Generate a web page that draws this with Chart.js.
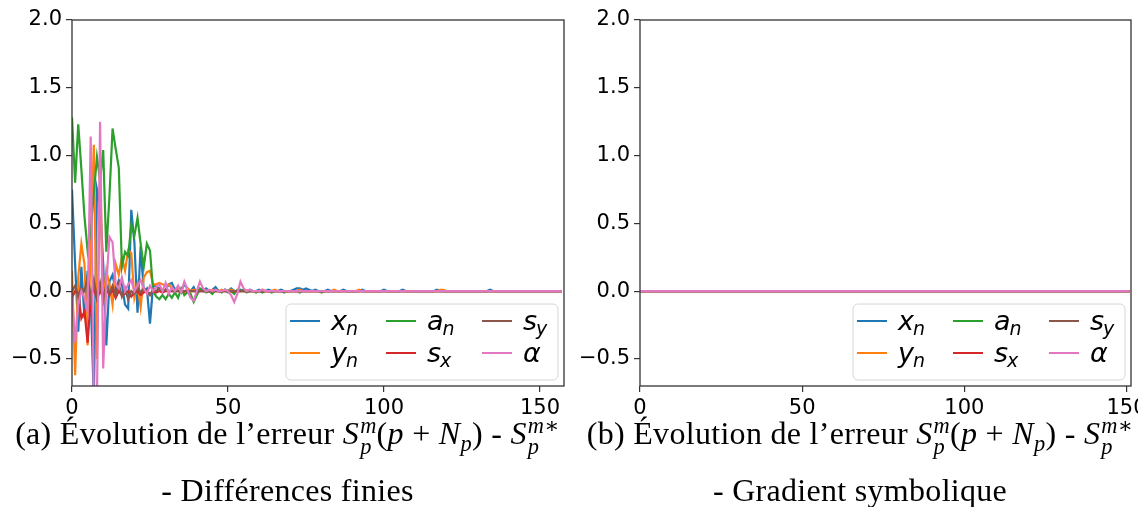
<!DOCTYPE html>
<html><head><meta charset="utf-8">
<script src="https://cdn.jsdelivr.net/npm/chart.js@4"></script>
<style>
html,body{margin:0;padding:0;background:#fff;width:1138px;height:507px;overflow:hidden;}
#wrap{position:relative;width:1138px;height:507px;overflow:hidden;}
canvas{position:absolute;top:0;}
#c1{left:0;}
#c2{left:568px;}
.cap{position:absolute;font-family:"Liberation Serif","DejaVu Serif",serif;font-size:32px;letter-spacing:0.3px;color:#000;text-align:center;white-space:nowrap;line-height:1;}
.ss{display:inline-flex;flex-direction:column;font-size:0.7em;line-height:0.95;vertical-align:0.5em;margin-left:1px;text-align:left;}
.sb{font-size:0.7em;vertical-align:-0.3em;}
</style></head>
<body><div id="wrap">
<canvas id="c1" width="600" height="425"></canvas>
<canvas id="c2" width="600" height="425"></canvas>
<div class="cap" style="left:0;width:575px;top:415px;">(a) Évolution de l’erreur <i>S</i><span class="ss"><i>m</i><i>p</i></span>(<i>p</i> + <i>N</i><i class="sb">p</i>) - <i>S</i><span class="ss"><span><i>m</i>∗</span><i>p</i></span></div>
<div class="cap" style="left:0;width:575px;top:474px;">- Différences finies</div>
<div class="cap" style="left:575px;width:570px;top:415px;">(b) Évolution de l’erreur <i>S</i><span class="ss"><i>m</i><i>p</i></span>(<i>p</i> + <i>N</i><i class="sb">p</i>) - <i>S</i><span class="ss"><span><i>m</i>∗</span><i>p</i></span></div>
<div class="cap" style="left:575px;width:570px;top:474px;">- Gradient symbolique</div>
</div>
<script>
// ---- series names (legend: base letter + subscript) ----
const seriesBase = ['x', 'y', 'a', 's', 's', 'α'];
const seriesSub  = ['n', 'n', 'n', 'x', 'y', ''];
const seriesColors = ['#1f77b4', '#ff7f0e', '#2ca02c', '#d62728', '#8c564b', '#e377c2'];

// ---- tick values ----
const yTicks = [-0.5, 0.0, 0.5, 1.0, 1.5, 2.0];
const xTicks = [0, 50, 100, 150];

// ---- (a) Différences finies : error per iteration ----
const fdXn = [
0.75,0.2,-0.3,0.18,-0.2,0.15,-0.05,-0.8,0.75,0.63,
0.2,-0.4,0.07,0.12,0.0,0.08,0.05,-0.1,-0.13,0.6,
0.36,-0.16,0.33,0.0,0.02,-0.24,0.05,0.03,0.02,0.0,
0.01,0.05,0.06,0.01,0.03,0.0,0.05,0.02,0.0,0.03,
-0.02,0.01,0.0,0.02,0.0,0.01,0.03,0.0,0.0,0.01,
0.0,0.02,0.0,0.0,0.01,0.0,0.0,0.01,0.0,0.0,
0.01,0,0,0.01,0,0,0,0.01,0,0,
0,0.01,0.02,0.02,0.01,0.02,0.01,0,0.01,0,
0,0,0.01,0,0,0,0,0.01,0,0,
0,0,0,0.01,0,0,0,0,0,0,
0.01,0,0,0,0,0,0.01,0,0,0,
0,0,0,0,0,0,0,0.01,0,0,
0,0,0,0,0,0,0,0,0,0,
0,0,0,0,0.01,0,0,0,0,0,
0,0,0,0,0,0,0,0,0,0,
0,0,0,0,0,0,0,0];
const fdYn = [
0.15,-0.62,0.1,0.35,0.2,-0.4,0.3,1.08,-0.5,0.9,
-0.1,0.15,0.05,-0.1,0.2,0.12,0.25,0.15,0.3,0.28,
-0.05,0.05,-0.12,0.1,0.14,0.15,0.05,0.05,0.06,0.05,
0.04,0.05,0.02,0.0,0.02,0.0,-0.01,0.02,0.0,0.01,
0.0,0.01,0.02,0.0,0.0,0.01,0.0,0.0,0.01,0.0,
0.0,0.01,0.0,0.0,0.0,0.01,0.0,0.0,0.0,0.0,
0,0.01,0,0,0,0.01,0,0,0,0,
0,0,0,0.01,0,0,0,0,0,0,
0,0,0,0,0.01,0,0,0,0,0,
0,0,0.01,0,0,0,0,0,0,0,
0,0,0,0,0,0,0,0,0,0,
0,0,0,0,0,0,0,0,0.01,0.01,
0,0,0,0,0,0,0,0,0,0,
0,0,0,0,0,0,0,0,0,0,
0,0,0,0,0,0,0,0,0,0,
0,0,0,0,0,0,0,0];
const fdAn = [
1.28,0.8,1.23,0.9,0.55,0.3,0.45,0.72,0.99,0.82,
1.04,0.29,0.7,1.2,1.05,0.91,0.18,0.29,0.26,0.49,
0.41,0.54,0.35,0.18,0.35,0.3,0.0,-0.04,-0.06,-0.03,
-0.06,-0.02,-0.05,-0.01,-0.05,0.02,-0.03,-0.01,-0.02,-0.08,
-0.03,0.02,0.01,-0.01,0.0,-0.02,0.01,0.0,-0.01,0.01,
-0.01,0.0,-0.02,0.01,0.0,0.01,-0.01,0.0,0.0,-0.01,
0,-0.01,0,0,-0.01,0,0,0,-0.01,0,
0,0,0,-0.01,0,0,0,0,0,0,
-0.01,0,0,0,0,0,0,0,0,0,
0,0,0,0,0,0,0,0,0,0,
0,0,0,0,0,0,0,0,0,0,
0,0,0,0,0,0,0,0,0,0,
0,0,0,0,0,0,0,0,0,0,
0,0,0,0,0,0,0,0,0,0,
0,0,0,0,0,0,0,0,0,0,
0,0,0,0,0,0,0,0];
const fdSx = [
-0.05,0.0,-0.02,-0.2,-0.15,-0.38,-0.05,0.02,-0.06,0.0,
-0.04,0.02,-0.03,0.01,-0.05,0.0,-0.03,-0.02,0.0,-0.04,
-0.01,0.0,-0.03,-0.01,0.0,-0.02,0.0,-0.01,0.0,-0.01,
0,0,0,0,0,0,0,0,0,0,
0,0,0,0,0,0,0,0,0,0,
0,0,0,0,0,0,0,0,0,0,
0,0,0,0,0,0,0,0,0,0,
0,0,0,0,0,0,0,0,0,0,
0,0,0,0,0,0,0,0,0,0,
0,0,0,0,0,0,0,0,0,0,
0,0,0,0,0,0,0,0,0,0,
0,0,0,0,0,0,0,0,0,0,
0,0,0,0,0,0,0,0,0,0,
0,0,0,0,0,0,0,0,0,0,
0,0,0,0,0,0,0,0,0,0,
0,0,0,0,0,0,0,0];
const fdSy = [
0.0,0.04,-0.03,0.02,0.0,0.1,-0.06,0.08,-0.05,0.06,
-0.07,0.05,-0.02,0.04,-0.03,0.05,-0.04,0.02,-0.06,0.0,
-0.02,0.03,-0.01,0.02,0.0,-0.03,0.01,0.0,0.02,0.0,
0.01,0,0,0,0,0,0,0,0,0,
0,0,0,0,0,0,0,0,0,0,
0,0,0,0,0,0,0,0,0,0,
0,0,0,0,0,0,0,0,0,0,
0,0,0,0,0,0,0,0,0,0,
0,0,0,0,0,0,0,0,0,0,
0,0,0,0,0,0,0,0,0,0,
0,0,0,0,0,0,0,0,0,0,
0,0,0,0,0,0,0,0,0,0,
0,0,0,0,0,0,0,0,0,0,
0,0,0,0,0,0,0,0,0,0,
0,0,0,0,0,0,0,0,0,0,
0,0,0,0,0,0,0,0];
const fdAlpha = [
-0.03,-0.38,-0.1,0.0,-0.05,-0.15,1.14,-0.85,-0.8,1.25,
-0.57,0.05,0.4,0.36,0.05,0.02,0.1,0.0,0.05,0.08,
0.0,0.04,0.08,0.02,-0.02,0.04,0.0,0.03,0.05,0.0,
0.06,-0.02,0.03,0.0,0.04,-0.01,0.07,0.01,-0.05,-0.07,
0.0,0.07,0.02,0.0,0.01,0.0,0.01,0.0,0.0,0.01,
0.0,-0.03,-0.08,-0.02,0.07,0.02,0.0,0.01,0.0,0.0,
0,0.01,0,0,0,0,0,0,0,0,
0,0,0,0,0,0,0,0,0,0,
0,0,0,0,0,0,0,0,0,0,
0,0,0,0,0,0,0,0,0,0,
0,0,0,0,0,0,0,0,0,0,
0,0,0,0,0,0,0,0,0,0,
0,0,0,0,0,0,0,0,0,0,
0,0,0,0,0,0,0,0,0,0,
0,0,0,0,0,0,0,0,0,0,
0,0,0,0,0,0,0,0];

// ---- (b) Gradient symbolique : error per iteration (identical for all parameters) ----
const gsError = [
0,0,0,0,0,0,0,0,0,0, 0,0,0,0,0,0,0,0,0,0,
0,0,0,0,0,0,0,0,0,0, 0,0,0,0,0,0,0,0,0,0,
0,0,0,0,0,0,0,0,0,0, 0,0,0,0,0,0,0,0,0,0,
0,0,0,0,0,0,0,0,0,0, 0,0,0,0,0,0,0,0,0,0,
0,0,0,0,0,0,0,0,0,0, 0,0,0,0,0,0,0,0,0,0,
0,0,0,0,0,0,0,0,0,0, 0,0,0,0,0,0,0,0,0,0,
0,0,0,0,0,0,0,0,0,0, 0,0,0,0,0,0,0,0,0,0,
0,0,0,0,0,0,0,0,0,0, 0,0];

const fdSeries = [fdXn, fdYn, fdAn, fdSx, fdSy, fdAlpha];
const gsSeries = [gsError, gsError, gsError, gsError, gsError, gsError];

const frameLegend = {
  id: 'frameLegend',
  afterDatasetsDraw(chart) {
    const ctx = chart.ctx, ca = chart.chartArea;
    ctx.save();
    ctx.strokeStyle = '#333';
    ctx.lineWidth = 1.3;
    ctx.strokeRect(ca.left, ca.top, ca.right - ca.left, ca.bottom - ca.top);
    const bw = 272, bh = 76;
    const bx = ca.right - 6 - bw, by = ca.bottom - 6 - bh;
    ctx.beginPath();
    ctx.roundRect(bx, by, bw, bh, 5);
    ctx.fillStyle = 'rgba(255,255,255,0.85)';
    ctx.fill();
    ctx.strokeStyle = '#d6d6d6';
    ctx.lineWidth = 1;
    ctx.stroke();
    chart.data.datasets.forEach((ds, k) => {
      const col = Math.floor(k / 2), row = k % 2;
      const hx = bx + 4 + col * 96, hy = by + 17 + row * 32;
      ctx.strokeStyle = ds.borderColor;
      ctx.lineWidth = 2;
      ctx.beginPath(); ctx.moveTo(hx, hy); ctx.lineTo(hx + 30, hy); ctx.stroke();
      ctx.fillStyle = '#000';
      ctx.textBaseline = 'alphabetic';
      ctx.textAlign = 'left';
      ctx.font = 'italic 27px "DejaVu Sans"';
      const tx = hx + 41;
      ctx.fillText(ds.baseLabel, tx, hy + 9);
      const w = ctx.measureText(ds.baseLabel).width;
      if (ds.subLabel) {
        ctx.font = 'italic 19px "DejaVu Sans"';
        ctx.fillText(ds.subLabel, tx + w - 1, hy + 14);
      }
    });
    ctx.restore();
  }
};

function makeChart(id, series, xMax) {
  const steps = series[0].map((_, i) => i);
  return new Chart(document.getElementById(id), {
    type: 'line',
    data: {
      labels: steps,
      datasets: series.map((vals, k) => ({
        label: seriesBase[k] + seriesSub[k],
        baseLabel: seriesBase[k],
        subLabel: seriesSub[k],
        data: vals,
        borderColor: seriesColors[k],
        backgroundColor: seriesColors[k],
        borderWidth: 2.2,
        pointRadius: 0,
        tension: 0,
        fill: false,
        clip: 0,
        order: 6 - k
      }))
    },
    options: {
      responsive: false,
      animation: false,
      events: [],
      layout: { padding: { left: 0, top: 20, right: id === 'c1' ? 36 : 37, bottom: 0 } },
      plugins: { legend: { display: false }, tooltip: { enabled: false } },
      scales: {
        x: {
          type: 'linear', min: 0, max: xMax,
          afterFit: s => { s.height = 39; },
          afterBuildTicks: s => { s.ticks = xTicks.map(v => ({ value: v })); },
          ticks: { color: '#000', font: { family: 'DejaVu Sans', size: 21 }, padding: 4, maxRotation: 0, autoSkip: false,
                   callback: v => String(v) },
          grid: { display: true, drawOnChartArea: false, drawTicks: true, tickLength: 6, color: '#333', lineWidth: 1.2 },
          border: { display: false }
        },
        y: {
          min: -0.7, max: 2.0,
          afterFit: s => { s.width = 72; },
          afterBuildTicks: s => { s.ticks = yTicks.map(v => ({ value: v })); },
          ticks: { color: '#000', font: { family: 'DejaVu Sans', size: 21 }, padding: 4, autoSkip: false,
                   callback: v => (v < 0 ? '\u2212' + Math.abs(v).toFixed(1) : v.toFixed(1)) },
          grid: { display: true, drawOnChartArea: false, drawTicks: true, tickLength: 6, color: '#333', lineWidth: 1.2 },
          border: { display: false }
        }
      }
    },
    plugins: [frameLegend]
  });
}

makeChart('c1', fdSeries, 157.7);
makeChart('c2', gsSeries, 151.4);
</script>
</body></html>
